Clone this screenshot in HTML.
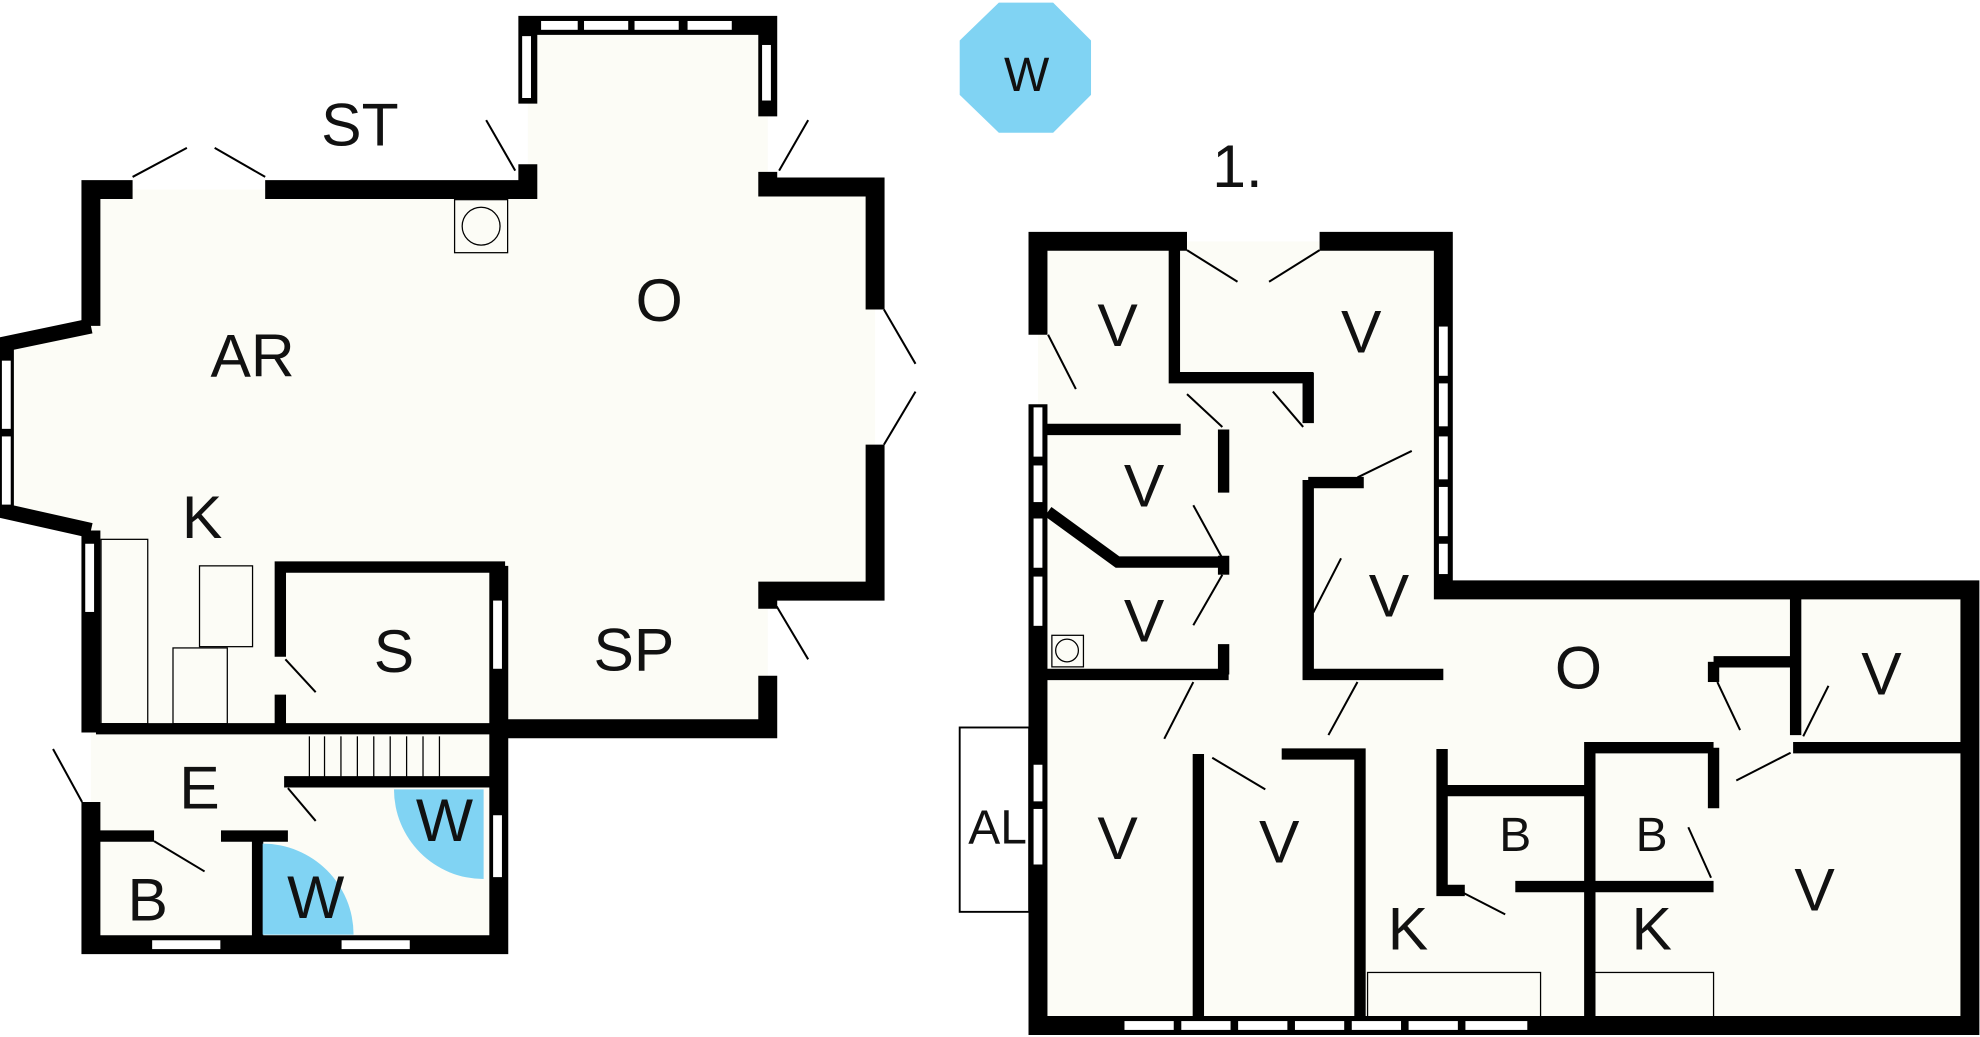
<!DOCTYPE html>
<html><head><meta charset="utf-8"><style>
html,body{margin:0;padding:0;background:#fff;}
svg{display:block}
text{font-family:"Liberation Sans",sans-serif;fill:#111;text-anchor:middle;}
</style></head><body>
<svg width="1980" height="1037" viewBox="0 0 1568 821" xmlns="http://www.w3.org/2000/svg">
<!-- floors -->
<polygon points="72,150 418,150 418,20 608,20 608,148 693,148 693,468 608,468 608,577 395,577 395,748 72,748 72,420 8,405 8,272 72,258" fill="#fcfcf6"/>
<polygon points="822,191 1143,191 1143,467 1560,467 1560,812 822,812" fill="#fcfcf6"/>
<g fill="none" stroke="#000" stroke-width="15" stroke-linejoin="miter">
<!-- left building outer -->
<path d="M72,258 L72,150 L105,150"/>
<path d="M210,150 L418,150 L418,130"/>
<path d="M418,82 L418,20 L608,20 L608,92"/>
<path d="M608,136 L608,148 L693,148 L693,245"/>
<path d="M693,352 L693,468 L608,468 L608,482"/>
<path d="M608,535 L608,577 L395,577"/>
<path d="M395,448 L395,748 L72,748 L72,635"/>
<path d="M72,580 L72,420"/>
<path d="M72,420 L5,405 L5,272 L72,258" stroke-width="12"/>
<!-- right building outer -->
<path d="M822,265 L822,191 L940,191"/>
<path d="M1045,191 L1143,191 L1143,467 L1560,467 L1560,812 L822,812 L822,320"/>
</g>
<g fill="none" stroke="#000" stroke-width="9">
<!-- left interior -->
<path d="M222,520 L222,449 L400,449"/>
<path d="M222,550 L222,577"/>
<path d="M76,577 L400,577"/>
<path d="M225,619 L395,619"/>
<path d="M76,662 L122,662"/>
<path d="M175,662 L228,662"/>
<path d="M204,662 L204,748"/>
<!-- right interior -->
<path d="M826,340 L935,340"/>
<path d="M930,195 L930,299 L1040,299 L1036,299"/>
<path d="M1036,295 L1036,335"/>
<path d="M1036,380 L1036,534 L1143,534"/>
<path d="M1036,382 L1080,382"/>
<path d="M969,340 L969,390"/>
<path d="M969,440 L969,455"/>
<path d="M969,510 L969,534"/>
<path d="M830,405 L885,445 L973,445"/>
<path d="M826,534 L973,534"/>
<path d="M949,597 L949,808"/>
<path d="M1015,597 L1077,597 L1077,808"/>
<path d="M1142,593 L1142,705 L1160,705"/>
<path d="M1142,626 L1259,626"/>
<path d="M1200,702 L1357,702"/>
<path d="M1259,808 L1259,592 L1357,592"/>
<path d="M1357,592 L1357,640"/>
<path d="M1357,524 L1357,540"/>
<path d="M1357,524 L1422,524"/>
<path d="M1422,470 L1422,582"/>
<path d="M1420,592 L1560,592"/>
</g>
<!-- windows -->
<g fill="#fff" stroke="#000" stroke-width="1">
<rect x="428" y="16" width="30" height="8"/><rect x="462" y="16" width="36" height="8"/><rect x="502" y="16" width="36" height="8"/><rect x="544" y="16" width="36" height="8"/>
<rect x="413" y="28" width="8" height="50"/><rect x="603" y="35" width="8" height="45"/>
<rect x="1" y="285" width="8" height="55"/><rect x="1" y="345" width="8" height="55"/>
<rect x="67" y="430" width="8" height="55"/>
<rect x="390" y="475" width="8" height="55"/>
<rect x="390" y="645" width="8" height="50"/>
<rect x="120" y="744" width="55" height="8"/><rect x="270" y="744" width="55" height="8"/>
<rect x="818" y="322" width="8" height="40"/><rect x="818" y="368" width="8" height="30"/><rect x="818" y="410" width="8" height="40"/><rect x="818" y="456" width="8" height="40"/>
<rect x="818" y="605" width="8" height="30"/><rect x="818" y="640" width="8" height="45"/>
<rect x="1139" y="258" width="8" height="40"/><rect x="1139" y="303" width="8" height="35"/><rect x="1139" y="345" width="8" height="35"/><rect x="1139" y="385" width="8" height="40"/><rect x="1139" y="430" width="8" height="25"/>
<rect x="890" y="808" width="40" height="8"/><rect x="935" y="808" width="40" height="8"/><rect x="980" y="808" width="40" height="8"/><rect x="1025" y="808" width="40" height="8"/><rect x="1070" y="808" width="40" height="8"/><rect x="1115" y="808" width="40" height="8"/><rect x="1160" y="808" width="50" height="8"/>
</g>
<!-- doors -->
<g stroke="#000" stroke-width="1.6" fill="none">
<line x1="105" y1="140" x2="148" y2="117"/><line x1="210" y1="140" x2="170" y2="117"/>
<line x1="385" y1="95" x2="408" y2="135"/><line x1="640" y1="95" x2="617" y2="135"/>
<line x1="700" y1="245" x2="725" y2="288"/><line x1="700" y1="352" x2="725" y2="310"/>
<line x1="615" y1="480" x2="640" y2="522"/>
<line x1="65" y1="635" x2="42" y2="593"/>
<line x1="226" y1="522" x2="250" y2="548"/>
<line x1="228" y1="624" x2="250" y2="650"/>
<line x1="122" y1="666" x2="162" y2="690"/>
<line x1="940" y1="198" x2="980" y2="223"/><line x1="1045" y1="198" x2="1005" y2="223"/>
<line x1="830" y1="265" x2="852" y2="308"/>
<line x1="940" y1="312" x2="968" y2="338"/>
<line x1="1008" y1="310" x2="1032" y2="338"/>
<line x1="1075" y1="378" x2="1118" y2="357"/>
<line x1="945" y1="400" x2="968" y2="442"/>
<line x1="945" y1="495" x2="968" y2="455"/>
<line x1="1040" y1="485" x2="1062" y2="442"/>
<line x1="945" y1="540" x2="922" y2="585"/>
<line x1="1075" y1="540" x2="1052" y2="582"/>
<line x1="960" y1="600" x2="1002" y2="625"/>
<line x1="1155" y1="705" x2="1192" y2="724"/>
<line x1="1360" y1="540" x2="1378" y2="578"/>
<line x1="1448" y1="543" x2="1428" y2="583"/>
<line x1="1418" y1="596" x2="1375" y2="618"/>
<line x1="1337" y1="655" x2="1355" y2="695"/>
</g>
<!-- fixtures -->
<g fill="none" stroke="#000" stroke-width="1">
<rect x="360" y="158" width="42" height="42"/><circle cx="381" cy="179" r="15"/>
<rect x="80" y="427" width="37" height="146"/>
<rect x="158" y="448" width="42" height="64"/>
<rect x="137" y="513" width="43" height="60"/>
<rect x="833" y="503" width="25" height="25"/><circle cx="845" cy="515" r="9"/>
<rect x="760" y="576" width="55" height="146" stroke-width="1.5"/>
<rect x="1083" y="770" width="137" height="35"/>
<rect x="1263" y="770" width="94" height="35"/>
<line x1="245" y1="583" x2="245" y2="615"/><line x1="257" y1="583" x2="257" y2="615"/><line x1="270" y1="583" x2="270" y2="615"/><line x1="283" y1="583" x2="283" y2="615"/><line x1="296" y1="583" x2="296" y2="615"/><line x1="309" y1="583" x2="309" y2="615"/><line x1="322" y1="583" x2="322" y2="615"/><line x1="335" y1="583" x2="335" y2="615"/><line x1="348" y1="583" x2="348" y2="615"/>
</g>
<!-- blue -->
<path d="M208,668 A72,72 0 0 1 280,740 L208,740 Z" fill="#80d3f3"/>
<path d="M383,625 L312,625 A71,71 0 0 0 383,696 Z" fill="#80d3f3"/>
<polygon points="791,2 834,2 864,32 864,75 834,105 791,105 760,75 760,32" fill="#80d3f3"/>
<g font-size="48">
<text x="285" y="115">ST</text>
<text x="200" y="298">AR</text>
<text x="522" y="254">O</text>
<text x="160" y="426">K</text>
<text x="312" y="532">S</text>
<text x="502" y="531">SP</text>
<text x="158" y="640">E</text>
<text x="117" y="729">B</text>
<text x="250" y="727">W</text>
<text x="352" y="666">W</text>
<text x="885" y="274">V</text><text x="1078" y="279">V</text>
<text x="906" y="401">V</text><text x="906" y="508">V</text>
<text x="1100" y="488">V</text><text x="1490" y="550">V</text>
<text x="885" y="680">V</text><text x="1013" y="683">V</text>
<text x="1437" y="721">V</text>
<text x="1250" y="545">O</text>
<text x="1115" y="752">K</text><text x="1308" y="752">K</text>
<text x="980" y="148">1.</text>
</g>
<g font-size="38">
<text x="1200" y="674">B</text><text x="1308" y="674">B</text>
<text x="790" y="668">AL</text>
<text x="813" y="72">W</text>
</g>
</svg>
</body></html>
